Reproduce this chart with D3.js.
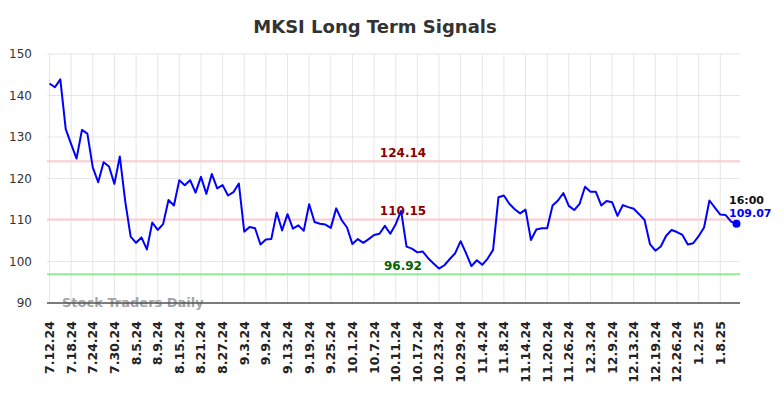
<!DOCTYPE html>
<html>
<head>
<meta charset="utf-8">
<script src="https://cdn.jsdelivr.net/npm/d3@7"></script>
<style>
body { margin: 0; background: #fff; }
svg { display: block; font-family: "DejaVu Sans", sans-serif; }
</style>
</head>
<body>
<div id="graph"></div>
<script>
var title = "MKSI Long Term Signals";

var tickLabels = [ "7.12.24", "7.18.24", "7.24.24", "7.30.24", "8.5.24",
	"8.9.24", "8.15.24", "8.21.24", "8.27.24", "9.3.24", "9.9.24",
	"9.13.24", "9.19.24", "9.25.24", "10.1.24", "10.7.24", "10.11.24",
	"10.17.24", "10.23.24", "10.29.24", "11.4.24", "11.8.24", "11.14.24",
	"11.20.24", "11.26.24", "12.3.24", "12.9.24", "12.13.24", "12.19.24",
	"12.26.24", "1.2.25", "1.8.25" ];

/* one point per trading day, a label every 4th day */
var prices = [
	142.9, 142.0, 143.9, 131.9, 128.3, 124.8, 131.7, 130.8, 122.7, 119.1,
	123.9, 122.9, 118.7, 125.3, 114.5, 106.0, 104.5, 105.8, 102.9, 109.4,
	107.6, 109.0, 114.8, 113.5, 119.6, 118.4, 119.6, 116.6, 120.4, 116.3,
	121.1, 117.6, 118.4, 115.9, 116.7, 118.8, 107.2, 108.3, 108.0, 104.1,
	105.3, 105.4, 111.8, 107.5, 111.4, 107.9, 108.7, 107.4, 113.8, 109.5,
	109.1, 108.9, 108.1, 112.8, 110.0, 108.2, 104.2, 105.4, 104.5, 105.4,
	106.4, 106.7, 108.6, 106.7, 109.0, 112.2, 103.6, 103.1, 102.2, 102.4,
	100.8, 99.5, 98.3, 99.1, 100.6, 102.0, 104.9, 102.0, 98.9, 100.3,
	99.2, 100.7, 102.8, 115.5, 115.9, 113.9, 112.6, 111.6, 112.5, 105.2,
	107.7, 108.0, 108.0, 113.5, 114.7, 116.5, 113.4, 112.4, 113.9, 118.0,
	116.8, 116.8, 113.5, 114.6, 114.3, 111.0, 113.6, 113.1, 112.7, 111.4,
	110.0, 104.2, 102.6, 103.6, 106.2, 107.6, 107.1, 106.4, 104.1, 104.4,
	106.1, 108.2, 114.7, 113.0, 111.3, 111.2, 109.6, 109.07 ];

var signals = [
	{ value: 124.14, line: "#ffcccc", text: "#8b0000" },
	{ value: 110.15, line: "#ffcccc", text: "#8b0000" },
	{ value: 96.92, line: "#90ee90", text: "#006400" }
];

var yTicks = [ 90, 100, 110, 120, 130, 140, 150 ];
var lastTime = "16:00";

var width = 784, height = 398;
var plotLeft = 47, plotRight = 740, plotTop = 54, plotBottom = 303;

var xScale = d3.scaleLinear()
	.domain([0, prices.length - 1])
	.range([49.5, 736.5]);
var yScale = d3.scaleLinear()
	.domain([90, 150])
	.range([plotBottom, plotTop]);

var tickIdx = d3.range(0, tickLabels.length * 4, 4);

var svg = d3.select("#graph").append("svg")
	.attr("width", width)
	.attr("height", height);

svg.append("text")
	.attr("x", 375)
	.attr("y", 33)
	.attr("text-anchor", "middle")
	.attr("font-size", 18)
	.attr("font-weight", "bold")
	.attr("fill", "#333")
	.text(title);

// grid
var grid = svg.append("g")
	.attr("stroke", "#e6e6e6")
	.attr("stroke-width", 1);
grid.selectAll("line.h")
	.data(yTicks)
	.enter().append("line")
	.attr("x1", plotLeft).attr("x2", plotRight)
	.attr("y1", function (d) { return yScale(d); })
	.attr("y2", function (d) { return yScale(d); });
grid.selectAll("line.v")
	.data(tickIdx)
	.enter().append("line")
	.attr("y1", plotTop).attr("y2", plotBottom)
	.attr("x1", function (d) { return xScale(d); })
	.attr("x2", function (d) { return xScale(d); });

var yAxis = d3.axisLeft(yScale)
	.tickValues(yTicks)
	.tickSize(0)
	.tickPadding(15);
var yg = svg.append("g")
	.attr("transform", "translate(" + plotLeft + ",0)")
	.call(yAxis);
yg.select(".domain").remove();
yg.selectAll("text")
	.attr("font-size", 12)
	.attr("fill", "#333")
	.attr("font-family", "DejaVu Sans");

// signal lines
signals.forEach(function (s) {
	svg.append("line")
		.attr("x1", plotLeft).attr("x2", plotRight)
		.attr("y1", yScale(s.value)).attr("y2", yScale(s.value))
		.attr("stroke", s.line)
		.attr("stroke-width", 2);
});

svg.append("text")
	.attr("x", 62)
	.attr("y", 307)
	.attr("font-size", 13)
	.attr("font-weight", "bold")
	.attr("fill", "#999")
	.attr("fill-opacity", 0.9)
	.text("Stock Traders Daily");

var xAxis = d3.axisBottom(xScale)
	.tickValues(tickIdx)
	.tickSize(0)
	.tickPadding(0)
	.tickFormat(function (d, i) { return tickLabels[i]; });
var xg = svg.append("g")
	.attr("transform", "translate(0," + plotBottom + ")")
	.call(xAxis);
xg.select(".domain")
	.attr("d", "M" + plotLeft + ",0H" + plotRight)
	.attr("stroke", "#555")
	.attr("stroke-width", 1.5);
xg.selectAll("text")
	.attr("font-size", 12.5)
	.attr("font-weight", "bold")
	.attr("font-family", "DejaVu Sans")
	.attr("fill", "#222")
	.attr("text-anchor", "end")
	.attr("dy", null)
	.attr("transform", "translate(4,18) rotate(-90)");

signals.forEach(function (s) {
	svg.append("text")
		.attr("x", 403)
		.attr("y", yScale(s.value) - 4)
		.attr("text-anchor", "middle")
		.attr("font-size", 12)
		.attr("font-weight", "bold")
		.attr("fill", s.text)
		.text(s.value.toFixed(2));
});

var line = d3.line()
	.x(function (d, i) { return xScale(i); })
	.y(function (d) { return yScale(d); });

svg.append("path")
	.datum(prices)
	.attr("fill", "none")
	.attr("stroke", "#0000ff")
	.attr("stroke-width", 2)
	.attr("stroke-linejoin", "round")
	.attr("d", line);

var lastI = prices.length - 1;
svg.append("circle")
	.attr("cx", xScale(lastI))
	.attr("cy", yScale(prices[lastI]))
	.attr("r", 4)
	.attr("fill", "#0000ff");

svg.append("text")
	.attr("x", 729)
	.attr("y", 204)
	.attr("font-size", 11)
	.attr("font-weight", "bold")
	.attr("fill", "#111")
	.text(lastTime);
svg.append("text")
	.attr("x", 729)
	.attr("y", 217)
	.attr("font-size", 11)
	.attr("font-weight", "bold")
	.attr("fill", "#0000ff")
	.text(prices[lastI].toFixed(2));
</script>
</body>
</html>
